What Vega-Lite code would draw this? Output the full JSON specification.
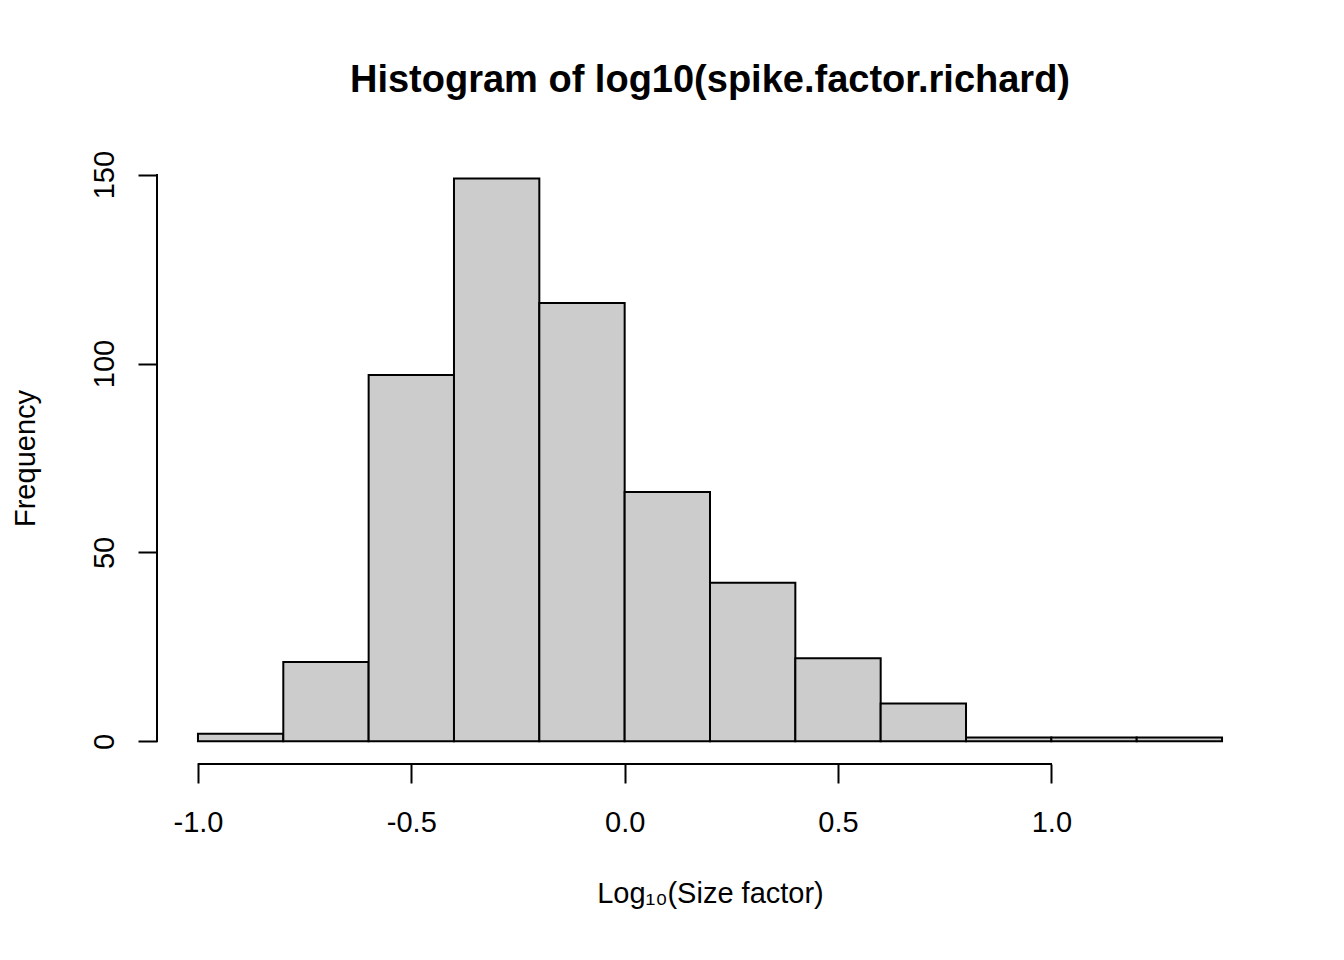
{
  "$schema": "https://vega.github.io/schema/vega-lite/v6.json",
  "width": 1106,
  "height": 612,
  "autosize": {"type": "none"},
  "padding": {"left": 157, "top": 152, "right": 81, "bottom": 196},
  "background": "white",
  "title": {
    "text": "Histogram of log10(spike.factor.richard)",
    "font": "Liberation Sans",
    "fontSize": 38,
    "fontWeight": "bold",
    "color": "black",
    "anchor": "middle",
    "baseline": "alphabetic",
    "offset": 20
  },
  "config": {
    "font": "Liberation Sans",
    "view": {"stroke": null},
    "axis": {
      "grid": false,
      "domain": false,
      "labelFont": "Liberation Sans",
      "titleFont": "Liberation Sans",
      "labelFontSize": 29,
      "titleFontSize": 29,
      "titleFontWeight": "normal",
      "labelColor": "black",
      "titleColor": "black",
      "tickColor": "black",
      "tickWidth": 2,
      "tickSize": 19
    }
  },
  "data": {
    "values": [
      {"bin_start": -1.0, "bin_end": -0.8, "count": 2},
      {"bin_start": -0.8, "bin_end": -0.6, "count": 21},
      {"bin_start": -0.6, "bin_end": -0.4, "count": 97},
      {"bin_start": -0.4, "bin_end": -0.2, "count": 149},
      {"bin_start": -0.2, "bin_end": 0.0, "count": 116},
      {"bin_start": 0.0, "bin_end": 0.2, "count": 66},
      {"bin_start": 0.2, "bin_end": 0.4, "count": 42},
      {"bin_start": 0.4, "bin_end": 0.6, "count": 22},
      {"bin_start": 0.6, "bin_end": 0.8, "count": 10},
      {"bin_start": 0.8, "bin_end": 1.0, "count": 1},
      {"bin_start": 1.0, "bin_end": 1.2, "count": 1},
      {"bin_start": 1.2, "bin_end": 1.4, "count": 1}
    ]
  },
  "layer": [
    {
      "mark": {"type": "rect", "fill": "#cccccc", "stroke": "black", "strokeWidth": 2},
      "encoding": {
        "x": {
          "field": "bin_start",
          "type": "quantitative",
          "scale": {"domain": [-1.096, 1.496], "nice": false, "zero": false},
          "axis": {
            "values": [-1, -0.5, 0, 0.5, 1],
            "labelExpr": "datum.value < 0 ? '-' + format(-datum.value, '.1f') : format(datum.value, '.1f')",
            "labelPadding": 25,
            "labelBaseline": "top",
            "title": "Log₁₀(Size factor)",
            "titleBaseline": "alphabetic",
            "titleY": 138,
            "titleX": 553
          }
        },
        "x2": {"field": "bin_end"},
        "y": {
          "field": "count",
          "type": "quantitative",
          "scale": {"domain": [-6, 156], "nice": false, "zero": false},
          "axis": {
            "values": [0, 50, 100, 150],
            "labelAngle": -90,
            "labelAlign": "center",
            "labelBaseline": "bottom",
            "labelPadding": 19,
            "title": "Frequency",
            "titleAngle": -90,
            "titleBaseline": "alphabetic",
            "titleAlign": "center",
            "titleX": -123,
            "titleY": 306
          }
        },
        "y2": {"datum": 0}
      }
    },
    {
      "mark": {"type": "rule", "color": "black", "strokeWidth": 2},
      "encoding": {
        "x": {"datum": -1},
        "x2": {"datum": 1},
        "y": {"datum": -6}
      }
    },
    {
      "mark": {"type": "rule", "color": "black", "strokeWidth": 2},
      "encoding": {
        "x": {"datum": -1.096},
        "y": {"datum": 0},
        "y2": {"datum": 150}
      }
    }
  ]
}
